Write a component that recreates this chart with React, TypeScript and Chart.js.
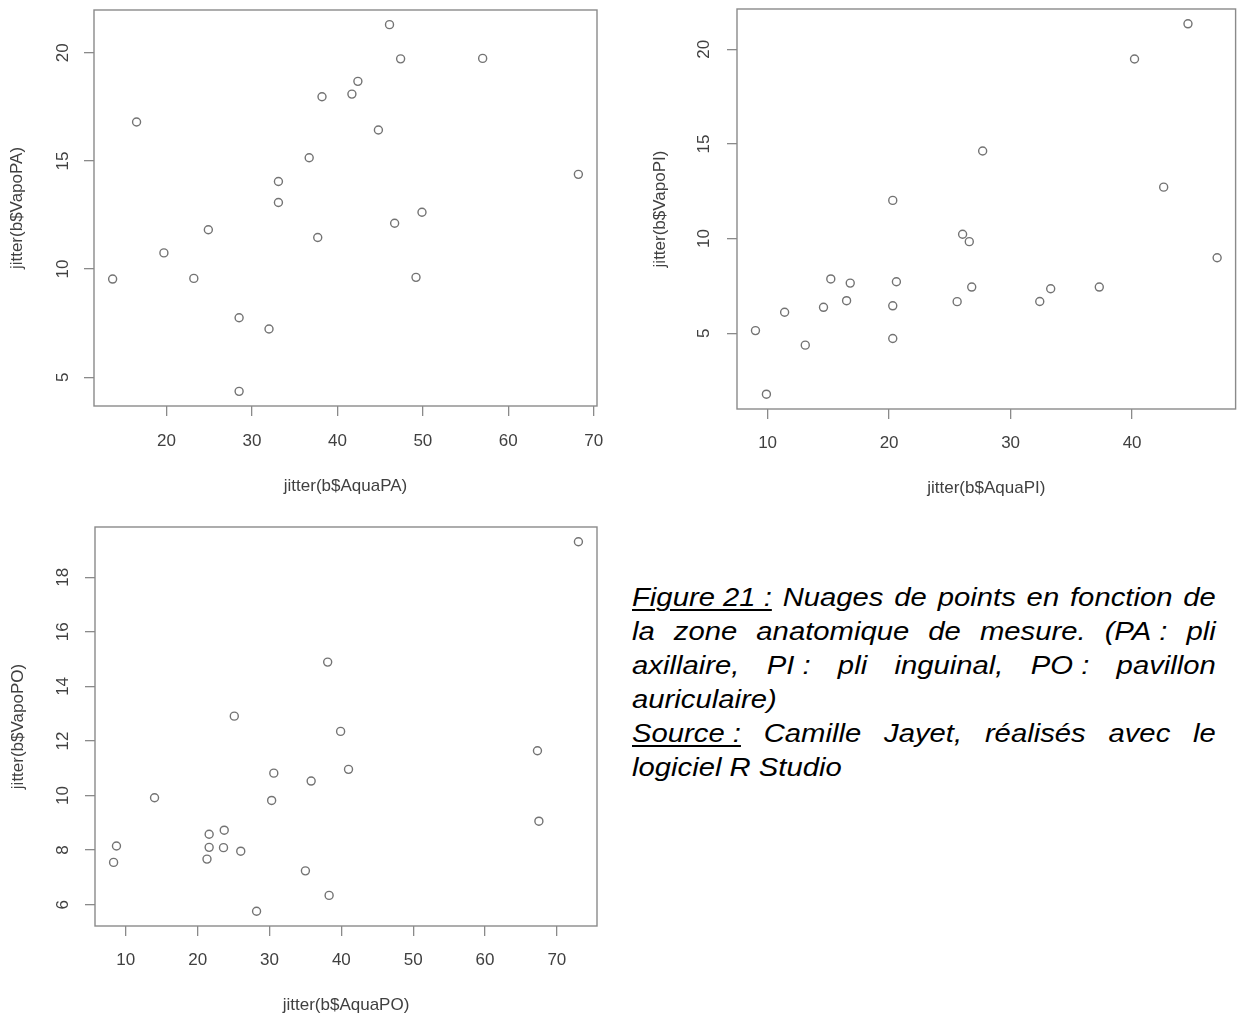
import React, { useEffect, useRef } from "react";
import { Chart, registerables } from "chart.js";

Chart.register(...registerables);

// ---- Data ----
const PA_AQUA = [46.1, 47.4, 57.0, 42.4, 41.7, 38.2, 16.5, 44.8, 36.7, 33.1, 68.2, 33.1, 49.9, 46.7, 24.9, 37.7, 19.7, 13.7, 23.2, 49.2, 28.5, 32.0, 28.5];
const PA_VAPO = [21.3, 19.72, 19.74, 18.68, 18.09, 17.97, 16.8, 16.43, 15.15, 14.05, 14.38, 13.08, 12.63, 12.12, 11.82, 11.46, 10.75, 9.54, 9.57, 9.62, 7.75, 7.23, 4.35];

const PI_AQUA = [44.6, 40.2, 27.7, 42.6, 20.3, 26.05, 26.6, 47.0, 15.2, 16.8, 20.6, 26.8, 33.3, 37.3, 16.5, 25.6, 32.4, 14.6, 20.3, 11.4, 9.0, 13.1, 20.3, 9.9];
const PI_VAPO = [21.35, 19.49, 14.63, 12.72, 12.02, 10.23, 9.84, 8.99, 7.87, 7.65, 7.72, 7.44, 7.35, 7.44, 6.72, 6.67, 6.68, 6.37, 6.45, 6.11, 5.14, 4.37, 4.72, 1.78];

const PO_AQUA = [73.0, 38.1, 25.1, 39.9, 67.3, 41.0, 30.6, 35.8, 14.0, 30.3, 67.5, 23.7, 21.6, 8.7, 21.6, 23.6, 26.0, 21.3, 8.3, 35.0, 38.3, 28.2];
const PO_VAPO = [19.3, 14.89, 12.91, 12.35, 11.64, 10.96, 10.82, 10.53, 9.92, 9.82, 9.06, 8.73, 8.58, 8.15, 8.1, 8.09, 7.96, 7.67, 7.55, 7.24, 6.34, 5.76];

const PA_X_TICKS = [20, 30, 40, 50, 60, 70];
const PA_Y_TICKS = [5, 10, 15, 20];
const PI_X_TICKS = [10, 20, 30, 40];
const PI_Y_TICKS = [5, 10, 15, 20];
const PO_X_TICKS = [10, 20, 30, 40, 50, 60, 70];
const PO_Y_TICKS = [6, 8, 10, 12, 14, 16, 18];

const PA_X_TITLE = "jitter(b$AquaPA)";
const PA_Y_TITLE = "jitter(b$VapoPA)";
const PI_X_TITLE = "jitter(b$AquaPI)";
const PI_Y_TITLE = "jitter(b$VapoPI)";
const PO_X_TITLE = "jitter(b$AquaPO)";
const PO_Y_TITLE = "jitter(b$VapoPO)";

// R-style axis range: data range extended by 4% on each side
function rRange(v: number[]): [number, number] {
  const lo = Math.min(...v);
  const hi = Math.max(...v);
  const d = (hi - lo) * 0.04;
  return [lo - d, hi + d];
}

const FONT = '17px "Liberation Sans", Arial, sans-serif';
const TEXT_COLOR = "#404040";
const LINE_COLOR = "#8a8a8a";

type Layout = {
  cx: number; cy: number; cw: number; ch: number; // canvas box (page coords)
  left: number; top: number; right: number; bottom: number; // plot area (page coords)
  xLabelY: number; xTitleY: number; yLabelX: number; yTitleX: number; // text positions (page coords)
};

type PanelProps = {
  xs: number[]; ys: number[];
  xTicks: number[]; yTicks: number[];
  xTitle: string; yTitle: string;
  L: Layout;
};

function ScatterPanel({ xs, ys, xTicks, yTicks, xTitle, yTitle, L }: PanelProps) {
  const ref = useRef<HTMLCanvasElement | null>(null);

  useEffect(() => {
    const canvas = ref.current;
    if (!canvas) return;
    const [xmin, xmax] = rRange(xs);
    const [ymin, ymax] = rRange(ys);

    const textPlugin = {
      id: "rText",
      afterDraw(chart: any) {
        const ctx = chart.ctx as CanvasRenderingContext2D;
        const area = chart.chartArea;
        const sx = chart.scales.x;
        const sy = chart.scales.y;
        ctx.save();
        // frame
        ctx.strokeStyle = LINE_COLOR;
        ctx.lineWidth = 1.4;
        ctx.strokeRect(area.left, area.top, area.right - area.left, area.bottom - area.top);
        // x tick labels
        ctx.fillStyle = TEXT_COLOR;
        ctx.font = FONT;
        ctx.textAlign = "center";
        ctx.textBaseline = "middle";
        xTicks.forEach((v) => {
          ctx.fillText(String(v), sx.getPixelForValue(v), L.xLabelY - L.cy);
        });
        // y tick labels (rotated, parallel to axis)
        yTicks.forEach((v) => {
          ctx.save();
          ctx.translate(L.yLabelX - L.cx, sy.getPixelForValue(v));
          ctx.rotate(-Math.PI / 2);
          ctx.fillText(String(v), 0, 0);
          ctx.restore();
        });
        // axis titles
        ctx.fillText(xTitle, (area.left + area.right) / 2, L.xTitleY - L.cy);
        ctx.save();
        ctx.translate(L.yTitleX - L.cx, (area.top + area.bottom) / 2);
        ctx.rotate(-Math.PI / 2);
        ctx.fillText(yTitle, 0, 0);
        ctx.restore();
        ctx.restore();
      },
    };

    const chart = new Chart(canvas, {
      type: "scatter",
      data: {
        datasets: [
          {
            data: xs.map((x, i) => ({ x, y: ys[i] })),
            pointRadius: 4,
            pointHoverRadius: 4,
            pointStyle: "circle",
            borderColor: "#737373",
            backgroundColor: "rgba(0,0,0,0)",
            borderWidth: 1.4,
          },
        ],
      },
      options: {
        responsive: false,
        animation: false,
        events: [],
        layout: {
          padding: {
            left: 0,
            top: L.top - L.cy,
            right: L.cx + L.cw - L.right,
            bottom: 0,
          },
        },
        plugins: {
          legend: { display: false },
          tooltip: { enabled: false },
        },
        scales: {
          x: {
            type: "linear",
            min: xmin,
            max: xmax,
            afterBuildTicks: (s: any) => {
              s.ticks = xTicks.map((v) => ({ value: v }));
            },
            afterFit: (s: any) => {
              s.height = L.cy + L.ch - L.bottom;
            },
            ticks: { display: false },
            grid: {
              display: true,
              drawOnChartArea: false,
              drawTicks: true,
              tickLength: 10,
              color: LINE_COLOR,
              lineWidth: 1.3,
            },
            border: { display: false },
          },
          y: {
            type: "linear",
            min: ymin,
            max: ymax,
            afterBuildTicks: (s: any) => {
              s.ticks = yTicks.map((v) => ({ value: v }));
            },
            afterFit: (s: any) => {
              s.width = L.left - L.cx;
            },
            ticks: { display: false },
            grid: {
              display: true,
              drawOnChartArea: false,
              drawTicks: true,
              tickLength: 10,
              color: LINE_COLOR,
              lineWidth: 1.3,
            },
            border: { display: false },
          },
        },
      } as any,
      plugins: [textPlugin],
    });
    return () => chart.destroy();
  }, []);

  return (
    <canvas
      ref={ref}
      width={L.cw}
      height={L.ch}
      style={{ position: "absolute", left: L.cx, top: L.cy, width: L.cw, height: L.ch }}
    />
  );
}

const LAYOUT_PA: Layout = {
  cx: 0, cy: 0, cw: 620, ch: 500,
  left: 94, top: 10, right: 597, bottom: 406,
  xLabelY: 441, xTitleY: 486, yLabelX: 63, yTitleX: 17,
};
const LAYOUT_PI: Layout = {
  cx: 640, cy: 0, cw: 601, ch: 500,
  left: 737, top: 9, right: 1240, bottom: 409,
  xLabelY: 443, xTitleY: 488, yLabelX: 704, yTitleX: 660,
};
const LAYOUT_PO: Layout = {
  cx: 0, cy: 505, cw: 620, ch: 509,
  left: 95, top: 527, right: 597, bottom: 926,
  xLabelY: 960, xTitleY: 1005, yLabelX: 63, yTitleX: 18,
};

export default function App() {
  const capStyle: React.CSSProperties = {
    position: "absolute",
    left: 632,
    top: 580,
    width: 499,
    transform: "scaleX(1.17)",
    transformOrigin: "0 0",
    fontFamily: '"Liberation Sans", Arial, sans-serif',
    fontStyle: "italic",
    fontSize: 25,
    lineHeight: "34px",
    color: "#000",
    textAlign: "justify",
  };
  const ul: React.CSSProperties = {
    display: "inline-block",
    textDecoration: "underline",
    textDecorationThickness: "2px",
    textUnderlineOffset: "3px",
    whiteSpace: "nowrap",
  };
  const nb: React.CSSProperties = { display: "inline-block", whiteSpace: "nowrap" };
  return (
    <div
      style={{
        position: "absolute",
        left: 0,
        top: 0,
        width: 1241,
        height: 1014,
        background: "#ffffff",
        overflow: "hidden",
      }}
    >
      <ScatterPanel xs={PA_AQUA} ys={PA_VAPO} xTicks={PA_X_TICKS} yTicks={PA_Y_TICKS} xTitle={PA_X_TITLE} yTitle={PA_Y_TITLE} L={LAYOUT_PA} />
      <ScatterPanel xs={PI_AQUA} ys={PI_VAPO} xTicks={PI_X_TICKS} yTicks={PI_Y_TICKS} xTitle={PI_X_TITLE} yTitle={PI_Y_TITLE} L={LAYOUT_PI} />
      <ScatterPanel xs={PO_AQUA} ys={PO_VAPO} xTicks={PO_X_TICKS} yTicks={PO_Y_TICKS} xTitle={PO_X_TITLE} yTitle={PO_Y_TITLE} L={LAYOUT_PO} />
      <div style={capStyle}>
        <div>
          <span style={ul}>{"Figure 21\u00a0:"}</span>
          {" Nuages de points en fonction de la zone anatomique de mesure. "}
          <span style={nb}>{"(PA\u00a0:"}</span>
          {" pli axillaire, "}
          <span style={nb}>{"PI\u00a0:"}</span>
          {" pli inguinal, "}
          <span style={nb}>{"PO\u00a0:"}</span>
          {" pavillon auriculaire)"}
        </div>
        <div>
          <span style={ul}>{"Source\u00a0:"}</span>
          {" Camille Jayet, réalisés avec le logiciel R Studio"}
        </div>
      </div>
    </div>
  );
}
